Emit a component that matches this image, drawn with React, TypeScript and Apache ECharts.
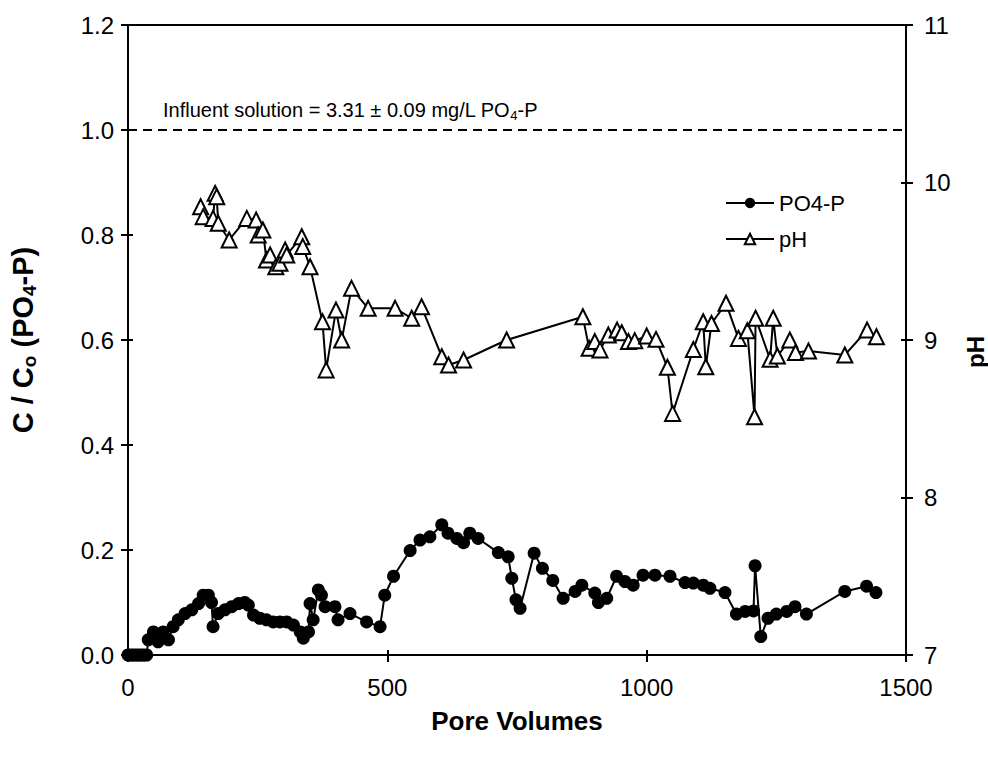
import React, { useEffect, useRef } from "react";
import * as echarts from "echarts";

const FONT = "Liberation Sans";

// PO4-P breakthrough (C/Co) vs pore volumes
const poreVolPO4 = [0, 5, 10, 15, 20, 25, 30, 36, 39, 49, 58, 68, 78, 87, 97, 110, 123, 136, 145, 155, 161, 164, 174, 187, 200, 213, 225, 232, 242, 254, 267, 280, 293, 306, 319, 332, 338, 348, 351, 357, 367, 373, 380, 399, 405, 428, 460, 486, 495, 512, 544, 563, 582, 605, 617, 634, 647, 659, 675, 714, 733, 740, 748, 756, 783, 799, 819, 839, 862, 875, 900, 907, 923, 942, 958, 974, 993, 1016, 1045, 1074, 1090, 1109, 1122, 1151, 1173, 1190, 1206, 1209, 1220, 1234, 1250, 1270, 1286, 1308, 1382, 1424, 1442];
const po4Values = [0, 0, 0, 0, 0, 0, 0, 0, 0.029, 0.044, 0.025, 0.044, 0.029, 0.054, 0.067, 0.079, 0.086, 0.098, 0.114, 0.114, 0.1, 0.054, 0.079, 0.086, 0.092, 0.098, 0.1, 0.095, 0.076, 0.07, 0.067, 0.063, 0.063, 0.063, 0.057, 0.044, 0.032, 0.044, 0.098, 0.067, 0.124, 0.114, 0.092, 0.092, 0.067, 0.079, 0.063, 0.054, 0.114, 0.15, 0.199, 0.219, 0.225, 0.248, 0.232, 0.222, 0.214, 0.232, 0.222, 0.195, 0.187, 0.146, 0.105, 0.089, 0.194, 0.165, 0.142, 0.108, 0.121, 0.133, 0.118, 0.1, 0.108, 0.15, 0.14, 0.133, 0.152, 0.152, 0.15, 0.138, 0.137, 0.133, 0.127, 0.119, 0.078, 0.083, 0.084, 0.17, 0.035, 0.07, 0.078, 0.083, 0.092, 0.078, 0.121, 0.131, 0.119];

// pH vs pore volumes
const poreVolPH = [140, 145, 164, 168, 171, 174, 195, 229, 247, 251, 260, 267, 274, 285, 293, 303, 306, 335, 337, 351, 375, 382, 401, 412, 431, 463, 515, 547, 566, 605, 618, 647, 730, 877, 889, 900, 910, 926, 943, 952, 965, 977, 1000, 1018, 1040, 1050, 1090, 1109, 1114, 1125, 1153, 1177, 1194, 1208, 1210, 1238, 1244, 1252, 1276, 1287, 1312, 1382, 1425, 1443];
const phValues = [9.846, 9.783, 9.772, 9.931, 9.91, 9.741, 9.635, 9.772, 9.762, 9.667, 9.698, 9.508, 9.54, 9.465, 9.487, 9.571, 9.54, 9.656, 9.593, 9.465, 9.116, 8.81, 9.19, 9.0, 9.328, 9.201, 9.201, 9.138, 9.211, 8.894, 8.841, 8.873, 9.0, 9.148, 8.947, 8.99, 8.937, 9.032, 9.063, 9.046, 8.99, 8.996, 9.025, 9.004, 8.827, 8.534, 8.94, 9.116, 8.83, 9.105, 9.233, 9.01, 9.059, 8.513, 9.138, 8.877, 9.138, 8.898, 9.0, 8.92, 8.93, 8.905, 9.063, 9.021];

const influentLevel = 1.0;

export default function App() {
  const ref = useRef<HTMLDivElement>(null);

  useEffect(() => {
    if (!ref.current) return;
    const chart = echarts.init(ref.current, undefined, { renderer: "svg" });

    const po4Data = poreVolPO4.map((x, i) => [x, po4Values[i]]);
    const phData = poreVolPH.map((x, i) => [x, phValues[i]]);

    const axisLine = { show: true, lineStyle: { color: "#000", width: 2 } };
    const tickOut = { show: true, inside: false, length: 7, lineStyle: { color: "#000", width: 2 } };
    const tickIn = { show: true, inside: true, length: 5, lineStyle: { color: "#000", width: 2 } };
    const labelStyle = { color: "#000", fontSize: 24, fontFamily: FONT };
    const gridBox = { left: 128, right: 82, top: 25, bottom: 104, outerBoundsMode: "none", containLabel: false };

    const option: any = {
      animation: false,
      backgroundColor: "#fff",
      textStyle: { fontFamily: FONT },
      grid: [
        { ...gridBox, show: true, borderColor: "#000", borderWidth: 2, backgroundColor: "transparent" },
        { ...gridBox, show: false },
      ],
      legend: {
        orient: "vertical",
        left: 720,
        top: 187,
        itemGap: 14,
        itemWidth: 48,
        itemHeight: 13,
        textStyle: { color: "#000", fontSize: 22, fontFamily: FONT },
        data: ["PO4-P", "pH"],
      },
      xAxis: [
        {
          type: "value",
          gridIndex: 0,
          min: 0,
          max: 1500,
          interval: 500,
          axisLine,
          axisTick: tickOut,
          splitLine: { show: false },
          axisLabel: { ...labelStyle, margin: 20, formatter: (v: number) => String(v) },
          name: "Pore Volumes",
          nameLocation: "middle",
          nameGap: 53,
          nameTextStyle: { color: "#000", fontSize: 26, fontWeight: "bold", fontFamily: FONT },
        },
        {
          type: "value",
          gridIndex: 1,
          min: 0,
          max: 1500,
          interval: 500,
          position: "bottom",
          axisLine: { show: false },
          axisTick: tickIn,
          axisLabel: { show: false },
          splitLine: { show: false },
        },
      ],
      yAxis: [
        {
          type: "value",
          gridIndex: 0,
          min: 0,
          max: 1.2,
          interval: 0.2,
          position: "left",
          axisLine,
          axisTick: tickOut,
          splitLine: { show: false },
          axisLabel: { ...labelStyle, margin: 14, formatter: (v: number) => v.toFixed(1) },
          name: "{a|C / C}{s|o}{a| (PO}{s|4}{a|-P)}",
          nameLocation: "middle",
          nameGap: 89,
          nameRotate: 90,
          nameTextStyle: {
            rich: {
              a: { fontSize: 29, fontWeight: "bold", fontFamily: FONT, color: "#000", lineHeight: 32 },
              s: { fontSize: 19, fontWeight: "bold", fontFamily: FONT, color: "#000", lineHeight: 17, verticalAlign: "bottom" },
            },
          },
        },
        {
          type: "value",
          gridIndex: 0,
          min: 7,
          max: 11,
          interval: 1,
          position: "right",
          axisLine,
          axisTick: tickOut,
          splitLine: { show: false },
          axisLabel: { ...labelStyle, margin: 18 },
          name: "pH",
          nameLocation: "middle",
          nameGap: 57,
          nameRotate: 90,
          nameTextStyle: { color: "#000", fontSize: 24, fontWeight: "bold", fontFamily: FONT, padding: [0, 24, 0, 0] },
        },
        {
          type: "value",
          gridIndex: 1,
          min: 0,
          max: 1.2,
          interval: 0.2,
          position: "left",
          axisLine: { show: false },
          axisTick: tickIn,
          axisLabel: { show: false },
          splitLine: { show: false },
        },
        {
          type: "value",
          gridIndex: 1,
          min: 7,
          max: 11,
          interval: 1,
          position: "right",
          axisLine: { show: false },
          axisTick: tickIn,
          axisLabel: { show: false },
          splitLine: { show: false },
        },
      ],
      graphic: [
        {
          type: "text",
          left: 163,
          top: 100,
          style: {
            text: "{a|Influent solution = 3.31 ± 0.09 mg/L PO}{s|4}{a|-P}",
            rich: {
              a: { fontSize: 20, fontFamily: FONT, fill: "#000", lineHeight: 24 },
              s: { fontSize: 13, fontFamily: FONT, fill: "#000", lineHeight: 13, verticalAlign: "bottom" },
            },
          },
        },
      ],
      series: [
        {
          name: "PO4-P",
          type: "line",
          xAxisIndex: 0,
          yAxisIndex: 0,
          data: po4Data,
          symbol: "circle",
          symbolSize: 13,
          itemStyle: { color: "#000" },
          lineStyle: { color: "#000", width: 2 },
          z: 3,
          markLine: {
            silent: true,
            symbol: "none",
            label: { show: false },
            lineStyle: { color: "#000", type: [9, 6], width: 2 },
            data: [{ yAxis: influentLevel }],
          },
        },
        {
          name: "pH",
          type: "line",
          xAxisIndex: 0,
          yAxisIndex: 1,
          data: phData,
          symbol: "emptyTriangle",
          symbolSize: 15,
          itemStyle: { color: "#000", borderColor: "#000", borderWidth: 2.8 },
          lineStyle: { color: "#000", width: 2 },
          z: 4,
        },
      ],
    };

    chart.setOption(option);
    return () => chart.dispose();
  }, []);

  return (
    <div
      ref={ref}
      style={{ position: "fixed", left: 0, top: 0, width: 988, height: 759, background: "#fff" }}
    />
  );
}
